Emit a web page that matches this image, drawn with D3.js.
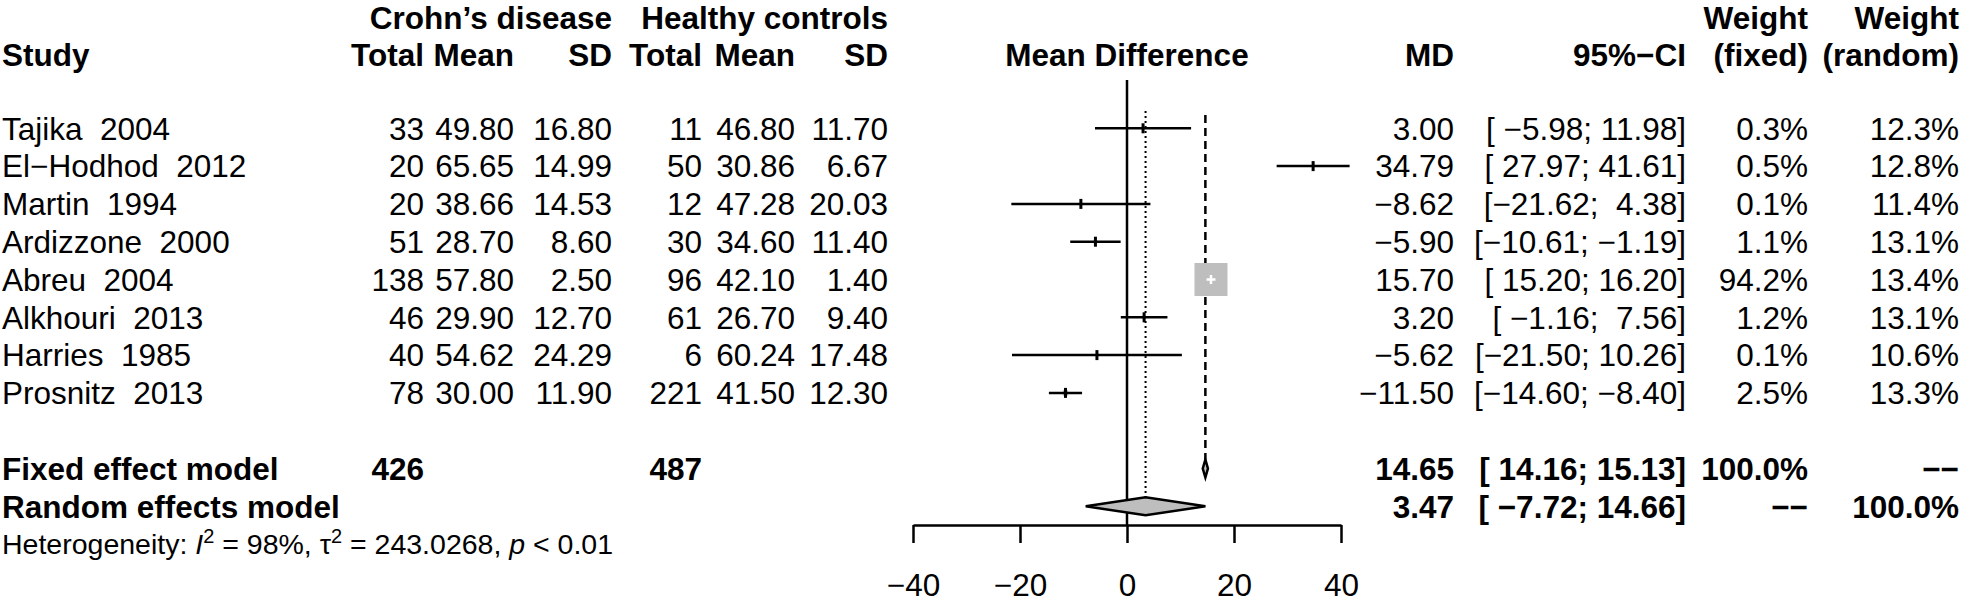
<!DOCTYPE html>
<html><head><meta charset="utf-8">
<script src="https://cdn.jsdelivr.net/npm/d3@7"></script>
<style>
body{margin:0;background:#fff}
svg{display:block}
text{font-family:"Liberation Sans",Arial,Helvetica,sans-serif;fill:#000;white-space:pre}
</style></head><body><svg id="c" width="1961" height="603"></svg>
<script>
// ---------------- data ----------------
const studies = ["Tajika  2004","El\u2212Hodhod  2012","Martin  1994","Ardizzone  2000","Abreu  2004","Alkhouri  2013","Harries  1985","Prosnitz  2013"];
const totalCD = [33,20,20,51,138,46,40,78];
const meanCD  = [49.80,65.65,38.66,28.70,57.80,29.90,54.62,30.00];
const sdCD    = [16.80,14.99,14.53,8.60,2.50,12.70,24.29,11.90];
const totalHC = [11,50,12,30,96,61,6,221];
const meanHC  = [46.80,30.86,47.28,34.60,42.10,26.70,60.24,41.50];
const sdHC    = [11.70,6.67,20.03,11.40,1.40,9.40,17.48,12.30];
const md      = [3.00,34.79,-8.62,-5.90,15.70,3.20,-5.62,-11.50];
const ciLower = [-5.98,27.97,-21.62,-10.61,15.20,-1.16,-21.50,-14.60];
const ciUpper = [11.98,41.61,4.38,-1.19,16.20,7.56,10.26,-8.40];
const weightFixed  = [0.3,0.5,0.1,1.1,94.2,1.2,0.1,2.5];
const weightRandom = [12.3,12.8,11.4,13.1,13.4,13.1,10.6,13.3];

const models      = ["Fixed effect model","Random effects model"];
const modelMD     = [14.65,3.47];
const modelLower  = [14.16,-7.72];
const modelUpper  = [15.13,14.66];
const modelTotalCD = [426,null];
const modelTotalHC = [487,null];
const modelWFixed  = ["100.0%","\u2212\u2212"];
const modelWRandom = ["\u2212\u2212","100.0%"];

const xTicks = [-40,-20,0,20,40];
const hetI2 = "98%", hetTau2 = "243.0268", hetP = "< 0.01";

// ---------------- layout ----------------
const svg = d3.select("#c");
const FS = 31.5, FSH = 28.5, LW = 2.5;
const col = {study:2, totCD:424, meanCD:514, sdCD:612, totHC:702, meanHC:795, sdHC:888,
             md:1454, ci:1686, wf:1808, wr:1959};
const x = d3.scaleLinear().domain([-40,40]).range([913,1341]);
const yRow = d3.scaleLinear().domain([0,1]).range([128.3,166.1]);
const yH1 = 17.5, yH2 = 55;
const axisY = 525;
const sq = d3.scaleSqrt().domain([0,d3.max(weightFixed)]).range([0,33]);
const f2 = d3.format(".2f"), f1 = d3.format(".1f");
const ciStr = (l,u)=>"["+f2(l).padStart(6," ")+"; "+f2(u).padStart(5," ")+"]";

function txt(xp,y,s,anchor,bold,fs){
  return svg.append("text").attr("x",xp).attr("y",y+0.36*(fs||FS))
    .attr("text-anchor",anchor||"end").attr("font-size",fs||FS)
    .attr("font-weight",bold?"bold":"normal").text(s);
}

// headers
txt(col.sdCD,yH1,"Crohn\u2019s disease","end",true);
txt(col.sdHC,yH1,"Healthy controls","end",true);
txt(col.wf,yH1,"Weight","end",true);
txt(col.wr,yH1,"Weight","end",true);
txt(col.study,yH2,"Study","start",true);
[["totCD","Total"],["meanCD","Mean"],["sdCD","SD"],["totHC","Total"],["meanHC","Mean"],["sdHC","SD"],
 ["md","MD"],["ci","95%\u2212CI"],["wf","(fixed)"],["wr","(random)"]].forEach(([k,s])=>txt(col[k],yH2,s,"end",true));
txt((x(-40)+x(40))/2,yH2,"Mean Difference","middle",true);

// study rows text
studies.forEach((s,i)=>{
  const y=yRow(i);
  txt(col.study,y,s,"start");
  txt(col.totCD,y,totalCD[i]); txt(col.meanCD,y,f2(meanCD[i])); txt(col.sdCD,y,f2(sdCD[i]));
  txt(col.totHC,y,totalHC[i]); txt(col.meanHC,y,f2(meanHC[i])); txt(col.sdHC,y,f2(sdHC[i]));
  txt(col.md,y,f2(md[i])); txt(col.ci,y,ciStr(ciLower[i],ciUpper[i]));
  txt(col.wf,y,f1(weightFixed[i])+"%"); txt(col.wr,y,f1(weightRandom[i])+"%");
});
// model rows text
models.forEach((m,j)=>{
  const y=yRow(9+j);
  txt(col.study,y,m,"start",true);
  if(modelTotalCD[j]!=null) txt(col.totCD,y,modelTotalCD[j],"end",true);
  if(modelTotalHC[j]!=null) txt(col.totHC,y,modelTotalHC[j],"end",true);
  txt(col.md,y,f2(modelMD[j]),"end",true);
  txt(col.ci,y,ciStr(modelLower[j],modelUpper[j]),"end",true);
  txt(col.wf,y,modelWFixed[j],"end",true);
  txt(col.wr,y,modelWRandom[j],"end",true);
});
// heterogeneity
{
  const y=yRow(11)+0.36*FSH;
  const t=svg.append("text").attr("x",col.study).attr("y",y).attr("font-size",FSH);
  t.append("tspan").text("Heterogeneity: ");
  t.append("tspan").attr("font-style","italic").text("I");
  t.append("tspan").attr("font-size",20).attr("dy",-11).text("2");
  t.append("tspan").attr("dy",11).text(" = "+hetI2+", \u03C4");
  t.append("tspan").attr("font-size",20).attr("dy",-11).text("2");
  t.append("tspan").attr("dy",11).text(" = "+hetTau2+", ");
  t.append("tspan").attr("font-style","italic").text("p");
  t.append("tspan").text(" "+hetP);
}

// ---------------- plot ----------------
const g = svg.append("g");
// reference lines
g.append("line").attr("x1",x(0)).attr("x2",x(0)).attr("y1",80).attr("y2",axisY)
  .attr("stroke","#000").attr("stroke-width",LW);
g.append("line").attr("x1",x(modelMD[1])).attr("x2",x(modelMD[1])).attr("y1",111).attr("y2",yRow(10)-9)
  .attr("stroke","#000").attr("stroke-width",2).attr("stroke-dasharray","2,3");
g.append("line").attr("x1",x(modelMD[0])).attr("x2",x(modelMD[0])).attr("y1",115).attr("y2",yRow(9)-9)
  .attr("stroke","#000").attr("stroke-width",LW).attr("stroke-dasharray","8,5");

// study markers
studies.forEach((s,i)=>{
  const y=yRow(i), cx=x(md[i]), h=sq(weightFixed[i]);
  g.append("rect").attr("x",cx-h/2).attr("y",y-h/2).attr("width",h).attr("height",h).attr("fill","#bebebe");
  const inL=cx-h/2, inR=cx+h/2;
  const l=x(ciLower[i]), u=x(ciUpper[i]);
  if(h>10){
    if(l<inL) g.append("line").attr("x1",l).attr("x2",inL).attr("y1",y).attr("y2",y).attr("stroke","#000").attr("stroke-width",LW);
    if(u>inR) g.append("line").attr("x1",inR).attr("x2",u).attr("y1",y).attr("y2",y).attr("stroke","#000").attr("stroke-width",LW);
    g.append("line").attr("x1",cx-4.5).attr("x2",cx+4.5).attr("y1",y).attr("y2",y).attr("stroke","#fff").attr("stroke-width",LW);
    g.append("line").attr("x1",cx).attr("x2",cx).attr("y1",y-4.5).attr("y2",y+4.5).attr("stroke","#fff").attr("stroke-width",LW);
  } else {
    g.append("line").attr("x1",l).attr("x2",u).attr("y1",y).attr("y2",y).attr("stroke","#000").attr("stroke-width",LW);
    g.append("line").attr("x1",cx).attr("x2",cx).attr("y1",y-5).attr("y2",y+5).attr("stroke","#000").attr("stroke-width",3);
  }
});

// diamonds
models.forEach((m,j)=>{
  const y=yRow(9+j);
  const pts=[[x(modelLower[j]),y],[x(modelMD[j]),y-9],[x(modelUpper[j]),y],[x(modelMD[j]),y+9]];
  g.append("path").attr("d",d3.line()(pts)+"Z").attr("fill","#bebebe").attr("stroke","#000").attr("stroke-width",LW);
});

// axis
const ax = g.append("g").attr("transform",`translate(0,${axisY})`)
  .call(d3.axisBottom(x).tickValues(xTicks).tickSize(18).tickSizeOuter(0).tickPadding(31));
ax.select(".domain").attr("stroke","#000").attr("stroke-width",LW);
ax.selectAll(".tick line").attr("stroke","#000").attr("stroke-width",LW);
ax.selectAll(".tick text").attr("font-size",FS).attr("font-family",'"Liberation Sans",Arial,sans-serif').attr("fill","#000");
</script></body></html>
